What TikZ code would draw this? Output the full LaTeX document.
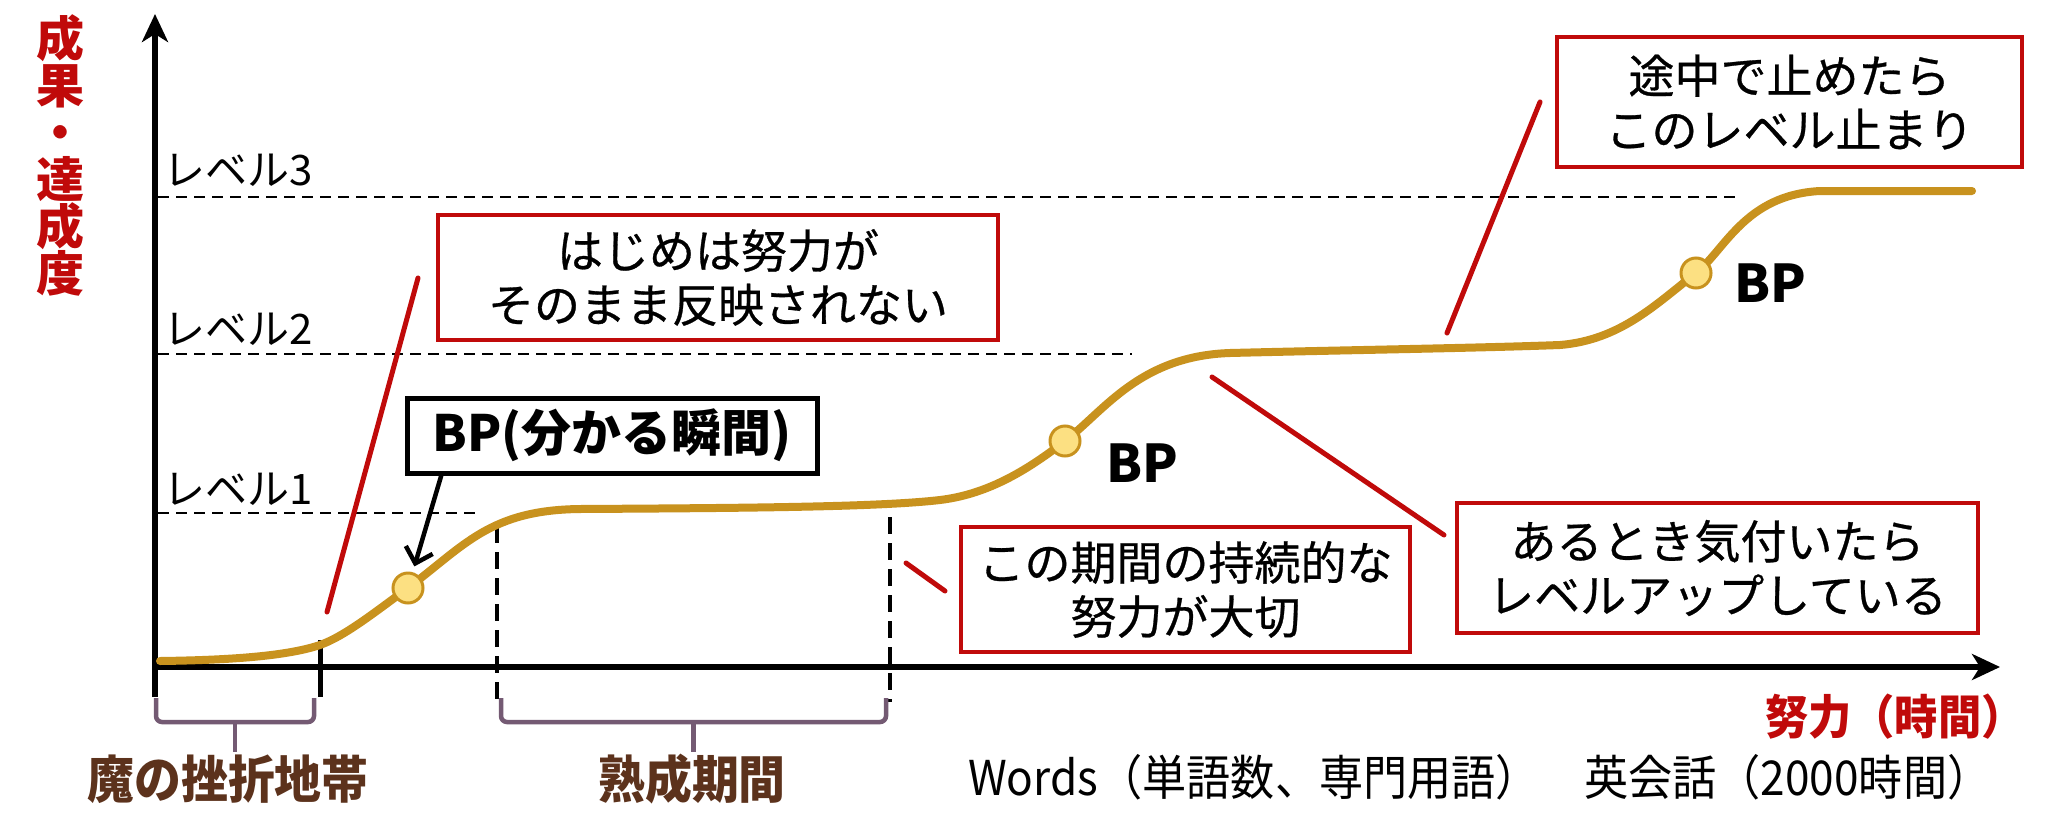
\documentclass[tikz,border=0pt]{standalone}
\usepackage{fontspec}
\newfontfamily\jp{Noto Sans CJK JP}
\newfontfamily\jpm[FakeBold=0.6]{Noto Sans CJK JP}
\newfontfamily\jpn[FakeStretch=0.92]{Noto Sans CJK JP}
\usetikzlibrary{arrows.meta,calc}
\definecolor{gold}{RGB}{200,146,30}
\definecolor{dotfill}{RGB}{252,224,130}
\definecolor{myred}{RGB}{192,10,10}
\definecolor{bracec}{RGB}{116,90,115}
\definecolor{brownt}{RGB}{92,50,28}
\begin{document}
\begin{tikzpicture}[x=1pt,y=-1pt,
  axisline/.style={line width=6pt,-{Stealth[length=28pt,width=26pt,inset=8pt]}},
  lvl/.style={line width=2.5pt,dash pattern=on 11pt off 7pt},
  vdash/.style={line width=4pt,dash pattern=on 17pt off 9pt},
  curveline/.style={draw=gold,line width=8pt,line cap=round},
  dotn/.style={circle,fill=dotfill,draw=gold,line width=3pt,minimum size=30pt,inner sep=0pt},
  redbox/.style={draw=myred,line width=4.5pt,fill=white,inner sep=0pt,align=center,font=\jpm\fontsize{46}{54}\selectfont},
  redline/.style={draw=myred,line width=5pt,line cap=round},
  lvllabel/.style={anchor=west,inner sep=0pt,font=\jp\fontsize{42}{42}\selectfont},
  bplabel/.style={anchor=base west,inner sep=0pt,font=\jp\bfseries\fontsize{52}{52}\selectfont},
  bracepath/.style={draw=bracec,line width=4.5pt,rounded corners=6pt},
  bottomlabel/.style={inner sep=0pt,text=brownt,font=\jpn\bfseries\fontsize{51}{51}\selectfont}
]
\useasboundingbox (0,0) rectangle (2047,819);
\fill[white] (0,0) rectangle (2047,819);

% level lines
\coordinate (l3a) at (158,197); \coordinate (l3b) at (1737,197);
\coordinate (l2a) at (158,354); \coordinate (l2b) at (1132,354);
\coordinate (l1a) at (158,513); \coordinate (l1b) at (475,513);
\draw[lvl] (l3a) -- (l3b);
\draw[lvl] (l2a) -- (l2b);
\draw[lvl] (l1a) -- (l1b);
\node[lvllabel] (lv3) at (163,170) {レベル3};
\node[lvllabel] (lv2) at (163,329) {レベル2};
\node[lvllabel] (lv1) at (163,489) {レベル1};

% vertical dashed lines
\coordinate (d1a) at (497,526); \coordinate (d1b) at (497,702);
\coordinate (d2a) at (890,517); \coordinate (d2b) at (890,702);
\draw[vdash] (d1a) -- (d1b);
\draw[vdash] (d2a) -- (d2b);

% axes
\coordinate (ybot) at (155,697);
\coordinate (ytop) at (155,14);
\coordinate (xo) at (152,667);
\coordinate (xend) at (2000,667);
\draw[axisline] (ybot) -- (ytop);
\draw[axisline] (xo) -- (xend);
\coordinate (tka) at (320,640); \coordinate (tkb) at (320,697);
\draw[line width=5pt] (tka) -- (tkb);

% curve
\draw[curveline] (160,661) .. controls (240,660) and (290,655) .. (320,645)
  .. controls (345,636) and (375,612) .. (408,588)
  .. controls (465,545) and (490,510) .. (580,509)
  .. controls (750,508) and (880,507) .. (940,500)
  .. controls (990,494) and (1030,468) .. (1065,441)
  .. controls (1105,410) and (1140,356) .. (1230,353)
  .. controls (1350,350) and (1480,348) .. (1560,345)
  .. controls (1620,340) and (1655,305) .. (1696,273)
  .. controls (1725,250) and (1745,195) .. (1820,191)
  -- (1972,191);
\node[dotn] (dot1) at (408,588) {};
\node[dotn] (dot2) at (1065,441) {};
\node[dotn] (dot3) at (1696,273) {};
\node[bplabel] (bp2) at (1106,482) {BP};
\node[bplabel] (bp3) at (1734,302) {BP};

% BP box and arrow
\node[draw=black,line width=5pt,fill=white,minimum width=410pt,minimum height=75pt,inner sep=0pt,font=\jp\bfseries\fontsize{50}{50}\selectfont] (bpbox) at (612,435.5) {BP(分かる瞬間)};
\coordinate (bpfoot) at (442,473);
\draw[line width=4.5pt,-{Straight Barb[length=14pt,width=28pt]},shorten >=6pt] (bpfoot) -- (dot1);

% red boxes
\node[redbox,minimum width=560pt,minimum height=125pt] (boxA) at (718,277.5) {はじめは努力が\\そのまま反映されない};
\node[redbox,minimum width=465pt,minimum height=130pt] (boxD) at (1789.5,102) {途中で止めたら\\このレベル止まり};
\node[redbox,minimum width=449pt,minimum height=125pt] (boxB) at (1185.5,589.5) {この期間の持続的な\\努力が大切};
\node[redbox,minimum width=521pt,minimum height=130pt] (boxC) at (1717.5,568) {あるとき気付いたら\\レベルアップしている};

% red pointer lines
\coordinate (rA1) at (418,278); \coordinate (rA2) at (327,612);
\coordinate (rB1) at (906,563); \coordinate (rB2) at (945,591);
\coordinate (rC1) at (1212,377); \coordinate (rC2) at (1444,535);
\coordinate (rD1) at (1540,102); \coordinate (rD2) at (1447,333);
\draw[redline] (rA1) -- (rA2);
\draw[redline] (rB1) -- (rB2);
\draw[redline] (rC1) -- (rC2);
\draw[redline] (rD1) -- (rD2);

% braces
\draw[bracepath] (156,698) -- (156,722) -- (314,722) -- (314,698);
\draw[bracec,line width=4.5pt] (235,722) -- (235,752);
\draw[bracepath] (501,698) -- (501,722) -- (886,722) -- (886,698);
\draw[bracec,line width=4.5pt] (693.5,722) -- (693.5,752);
\node[bottomlabel] (zone1) at (228,779) {魔の挫折地帯};
\node[bottomlabel] (zone2) at (692,779) {熟成期間};

% axis labels
\node[inner sep=0pt,text=myred,align=center,font=\jp\bfseries\fontsize{48}{47}\selectfont] (ylab) at (60,155) {成\\果\\・\\達\\成\\度};
\node[anchor=west,inner sep=0pt,text=myred,font=\jpn\bfseries\fontsize{47}{47}\selectfont] (xlab) at (1765,717) {努力（時間）};
\node[anchor=west,inner sep=0pt,font=\jpn\fontsize{48}{48}\selectfont] (words) at (968,777) {Words（単語数、専門用語）　英会話（2000時間）};
\end{tikzpicture}
\end{document}
